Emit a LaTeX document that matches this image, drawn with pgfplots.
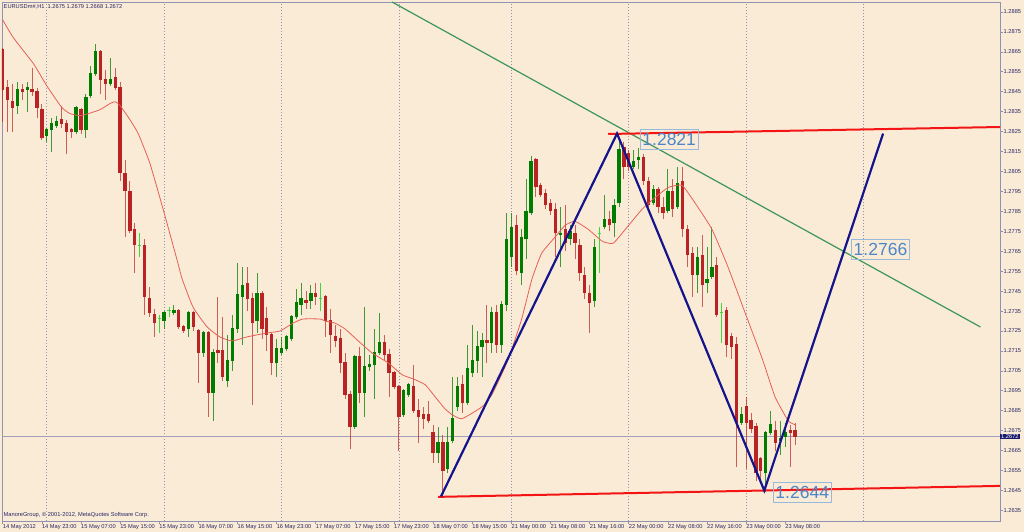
\documentclass[border=0pt]{standalone}
\usepackage{pgfplots}
\pgfplotsset{compat=1.18}
\usepackage{pgfplotstable}
\usepackage{fontspec}
\setmainfont{Liberation Sans}

\definecolor{bg}{RGB}{250,235,215}
\definecolor{bull}{RGB}{0,125,0}
\definecolor{bear}{RGB}{185,35,35}
\definecolor{doji}{RGB}{60,215,60}
\definecolor{frame}{RGB}{145,145,180}
\definecolor{ink}{RGB}{40,40,100}
\definecolor{zig}{RGB}{20,20,140}
\definecolor{trend}{RGB}{60,150,90}
\definecolor{lvl}{RGB}{245,20,20}
\definecolor{ma}{RGB}{230,95,85}
\definecolor{lbl}{RGB}{75,135,200}
\definecolor{lblbox}{RGB}{150,185,220}
\definecolor{curline}{RGB}{160,160,185}
\definecolor{tag}{RGB}{25,25,110}

% EURUSD H1, 14-23 May 2012: i o h l c
\pgfplotstableread{
i o h l c
3 1.2838 1.2850 1.2834 1.2846
5 1.2846 1.2850 1.2835 1.2847
9 1.2823 1.2827 1.2820 1.2826
10 1.2826 1.2832 1.2815 1.2829
11 1.2828 1.2833 1.2827 1.2830
15 1.2825 1.2838 1.2824 1.2837
17 1.2826 1.2844 1.2822 1.2842
18 1.2843 1.2858 1.2842 1.2854
19 1.2854 1.2869 1.2853 1.2865
22 1.2849 1.2862 1.2848 1.2851
33 1.2730 1.2735 1.2726 1.2734
35 1.2734 1.2738 1.2733 1.2735
38 1.2726 1.2735 1.2722 1.2734
41 1.2714 1.2725 1.2712 1.2724
43 1.2694 1.2716 1.2680 1.2714
46 1.2700 1.2723 1.2697 1.2710
47 1.2710 1.2733 1.2705 1.2726
48 1.2726 1.2759 1.2724 1.2743
49 1.2742 1.2757 1.2718 1.2748
52 1.2730 1.2754 1.2724 1.2744
56 1.2709 1.2721 1.2702 1.2716
57 1.2714 1.2722 1.2713 1.2716
58 1.2716 1.2723 1.2715 1.2722
59 1.2721 1.2733 1.2720 1.2732
60 1.2732 1.2746 1.2731 1.2739
61 1.2738 1.2749 1.2733 1.2741
63 1.2740 1.2748 1.2736 1.2744
72 1.2677 1.2713 1.2676 1.2712
74 1.2694 1.2737 1.2682 1.2707
75 1.2707 1.2713 1.2705 1.2708
76 1.2708 1.2726 1.2691 1.2714
77 1.2714 1.2734 1.2713 1.2719
82 1.2683 1.2696 1.2682 1.2695
83 1.2693 1.2699 1.2692 1.2698
89 1.2664 1.2677 1.2659 1.2669
91 1.2656 1.2677 1.2654 1.2669
92 1.2670 1.2702 1.2669 1.2681
93 1.2687 1.2702 1.2685 1.2697
95 1.2689 1.2718 1.2688 1.2706
96 1.2704 1.2728 1.2702 1.2710
97 1.2710 1.2725 1.2704 1.2717
98 1.2717 1.2724 1.2702 1.2720
100 1.2719 1.2737 1.2714 1.2734
102 1.2718 1.2740 1.2714 1.2738
103 1.2738 1.2784 1.2735 1.2771
104 1.2762 1.2784 1.2757 1.2777
106 1.2754 1.2776 1.2748 1.2772
107 1.2771 1.2801 1.2761 1.2785
108 1.2784 1.2813 1.2783 1.2810
114 1.2773 1.2787 1.2757 1.2774
116 1.2771 1.2778 1.2768 1.2775
121 1.2740 1.2771 1.2737 1.2767
123 1.2777 1.2793 1.2776 1.2781
125 1.2779 1.2791 1.2772 1.2788
126 1.2789 1.2822 1.2787 1.2816
129 1.2807 1.2816 1.2806 1.2810
130 1.2811 1.2817 1.2806 1.2812
133 1.2789 1.2798 1.2788 1.2796
136 1.2785 1.2806 1.2784 1.2795
138 1.2787 1.2807 1.2786 1.2799
142 1.2753 1.2767 1.2744 1.2762
144 1.2749 1.2767 1.2744 1.2751
145 1.2752 1.2777 1.2751 1.2757
151 1.2679 1.2687 1.2678 1.2683
156 1.2654 1.2675 1.2644 1.2674
157 1.2674 1.2685 1.2673 1.2678
159 1.2670 1.2680 1.2663 1.2671
160 1.2672 1.2679 1.2667 1.2674
}\bulltab

\pgfplotstableread{
i o h l c
0 1.2866 1.2867 1.2830 1.2846
1 1.2847 1.2851 1.2825 1.2841
2 1.2840 1.2849 1.2825 1.2837
4 1.2846 1.2849 1.2841 1.2845
6 1.2846 1.2857 1.2843 1.2845
7 1.2845 1.2847 1.2832 1.2837
8 1.2836 1.2839 1.2821 1.2822
12 1.2831 1.2838 1.2827 1.2829
13 1.2829 1.2831 1.2814 1.2825
14 1.2826 1.2827 1.2822 1.2825
16 1.2836 1.2837 1.2824 1.2826
20 1.2865 1.2866 1.2844 1.2851
21 1.2851 1.2856 1.2841 1.2849
23 1.2852 1.2857 1.2846 1.2847
24 1.2847 1.2850 1.2800 1.2804
25 1.2804 1.2811 1.2772 1.2795
26 1.2795 1.2800 1.2774 1.2775
27 1.2776 1.2779 1.2754 1.2768
29 1.2768 1.2771 1.2733 1.2742
30 1.2741 1.2747 1.2732 1.2734
31 1.2733 1.2736 1.2722 1.2729
36 1.2735 1.2736 1.2726 1.2727
37 1.2727 1.2728 1.2724 1.2725
39 1.2734 1.2735 1.2725 1.2727
40 1.2725 1.2726 1.2699 1.2714
42 1.2724 1.2725 1.2682 1.2694
44 1.2715 1.2742 1.2709 1.2714
45 1.2715 1.2732 1.2700 1.2702
50 1.2749 1.2757 1.2735 1.2741
51 1.2741 1.2744 1.2688 1.2729
53 1.2744 1.2745 1.2721 1.2726
54 1.2731 1.2737 1.2715 1.2723
55 1.2723 1.2724 1.2703 1.2709
62 1.2740 1.2745 1.2736 1.2739
64 1.2744 1.2749 1.2738 1.2742
66 1.2742 1.2743 1.2722 1.2730
67 1.2730 1.2736 1.2714 1.2723
68 1.2722 1.2728 1.2717 1.2720
69 1.2721 1.2726 1.2704 1.2709
70 1.2709 1.2714 1.2691 1.2693
71 1.2693 1.2695 1.2666 1.2677
73 1.2712 1.2717 1.2689 1.2694
78 1.2719 1.2723 1.2710 1.2713
79 1.2713 1.2716 1.2692 1.2704
80 1.2704 1.2705 1.2696 1.2697
81 1.2697 1.2698 1.2665 1.2682
84 1.2697 1.2708 1.2684 1.2685
85 1.2685 1.2691 1.2669 1.2682
86 1.2683 1.2687 1.2676 1.2681
87 1.2683 1.2690 1.2679 1.2680
88 1.2674 1.2678 1.2659 1.2664
90 1.2669 1.2673 1.2642 1.2655
94 1.2698 1.2703 1.2684 1.2689
99 1.2720 1.2738 1.2709 1.2719
101 1.2734 1.2738 1.2714 1.2718
105 1.2778 1.2783 1.2753 1.2755
109 1.2811 1.2812 1.2792 1.2797
110 1.2798 1.2799 1.2792 1.2793
111 1.2794 1.2796 1.2786 1.2788
112 1.2789 1.2791 1.2783 1.2785
113 1.2786 1.2789 1.2762 1.2774
115 1.2776 1.2788 1.2765 1.2769
117 1.2774 1.2778 1.2761 1.2769
118 1.2768 1.2771 1.2750 1.2754
119 1.2753 1.2757 1.2741 1.2744
120 1.2744 1.2748 1.2724 1.2739
124 1.2781 1.2785 1.2775 1.2778
127 1.2817 1.2820 1.2801 1.2807
128 1.2814 1.2816 1.2805 1.2807
131 1.2812 1.2814 1.2798 1.2800
132 1.2800 1.2802 1.2787 1.2788
134 1.2796 1.2797 1.2784 1.2787
135 1.2787 1.2792 1.2781 1.2784
137 1.2795 1.2801 1.2782 1.2786
139 1.2800 1.2807 1.2772 1.2776
140 1.2776 1.2778 1.2757 1.2763
141 1.2764 1.2767 1.2742 1.2753
143 1.2763 1.2773 1.2737 1.2748
146 1.2758 1.2762 1.2732 1.2733
148 1.2735 1.2737 1.2712 1.2718
149 1.2722 1.2724 1.2711 1.2717
150 1.2718 1.2722 1.2657 1.2679
152 1.2687 1.2692 1.2656 1.2679
153 1.2680 1.2684 1.2674 1.2676
154 1.2677 1.2679 1.2650 1.2654
155 1.2661 1.2662 1.2651 1.2655
158 1.2675 1.2680 1.2665 1.2669
161 1.2675 1.2678 1.2657 1.2674
162 1.2675 1.2679 1.2668 1.2672
}\beartab

% open = close bars
\pgfplotstableread{
i h l c
28 1.2774 1.2762 1.2768
32 1.2733 1.2724 1.2731
34 1.2737 1.2732 1.2735
65 1.2749 1.2735 1.2741
122 1.2777 1.2754 1.2774
147 1.2739 1.2719 1.2734
}\dojitab

% moving average
\pgfplotstableread{
i p
0 1.2881
2.2 1.2872
6.3 1.2859
9.0 1.2848
12.1 1.2837
13.8 1.2834
15.8 1.2833
17.5 1.2834
19.9 1.2836
21.9 1.2839
23.0 1.2840
24.0 1.2838
26.0 1.2831
27.7 1.2824
30.1 1.2809
32.8 1.2786
35.6 1.2761
36.7 1.2751
38.9 1.2737
41.8 1.2727
44.4 1.2722
46.9 1.2720
49.9 1.2722
54.0 1.2724
56.7 1.2725
59.4 1.2729
61.4 1.2731
64.9 1.2731
65.9 1.2730
67.9 1.2729
70.0 1.2726
72.7 1.2720
75.5 1.2714
78.8 1.2709
81.7 1.2703
83.9 1.2701
86.4 1.2698
88.4 1.2692
90.4 1.2686
91.9 1.2683
93.9 1.2681
98.0 1.2687
100.0 1.2693
102.7 1.2707
104.1 1.2716
106.1 1.2731
108.2 1.2751
110.2 1.2764
112.9 1.2772
115.0 1.2778
117.0 1.2780
119.7 1.2776
122.6 1.2770
124.8 1.2769
127.3 1.2776
130.7 1.2786
133.4 1.2792
136.1 1.2797
138.9 1.2798
141.6 1.2789
145.0 1.2776
148.3 1.2757
151.8 1.2734
155.3 1.2711
157.9 1.2692
160.6 1.2680
162.0 1.2678
}\matab

\newcommand{\mtfont}{\fontsize{5.7}{6.2}\selectfont}

\begin{document}
\begin{tikzpicture}
\useasboundingbox (0,0) rectangle (1024pt,532pt);
\fill[bg] (0,0) rectangle (1024pt,532pt);
\begin{axis}[
  at={(2pt,11pt)}, anchor=south west,
  scale only axis, width=998pt, height=519pt,
  xmin=-0.15, xmax=203.9, ymin=1.26297, ymax=1.28900,
  axis background/.style={fill=bg},
  axis line style={draw=frame, line width=0.8pt},
  clip mode=individual,
  tick align=outside, major tick length=3pt,
  tick style={draw=frame, line width=0.6pt},
  xtick pos=bottom, ytick pos=right, yticklabel pos=right,
  xtick={0,8,...,160},
  xticklabels={14 May 2012,14 May 23:00,15 May 07:00,15 May 15:00,15 May 23:00,16 May 07:00,16 May 15:00,16 May 23:00,17 May 07:00,17 May 15:00,17 May 23:00,18 May 07:00,18 May 15:00,21 May 00:00,21 May 08:00,21 May 16:00,22 May 00:00,22 May 08:00,22 May 16:00,23 May 00:00,23 May 08:00},
  xticklabel style={anchor=north west, font=\mtfont, text=ink, inner sep=0pt, xshift=0pt, yshift=-0.5pt},
  ytick={1.2635,1.2645,1.2655,1.2665,1.2675,1.2685,1.2695,1.2705,1.2715,1.2725,1.2735,1.2745,1.2755,1.2765,1.2775,1.2785,1.2795,1.2805,1.2815,1.2825,1.2835,1.2845,1.2855,1.2865,1.2875,1.2885},
  scaled y ticks=false,
  yticklabel style={anchor=west, font=\mtfont, text=ink, inner sep=0.5pt,
    /pgf/number format/.cd, fixed, fixed zerofill, precision=4, assume math mode=true},
  extra x ticks={9,33,57,81,104,128,152,176},
  extra x tick labels={},
  extra x tick style={grid=major, major tick length=0pt,
    major grid style={draw=frame, dash pattern=on 1pt off 2pt, line width=0.6pt}},
]
% current price line
\addplot[curline, line width=0.8pt, forget plot] coordinates {(-0.15,1.2672) (203.9,1.2672)};

% wicks
\addplot[draw=none, mark=none, forget plot,
  error bars/.cd, y dir=plus, y explicit,
  error bar style={draw=bull, line width=0.9pt, opacity=0.75}, error mark=none]
  table[x=i, y=l, y error expr=\thisrow{h}-\thisrow{l}] {\bulltab};
\addplot[draw=none, mark=none, forget plot,
  error bars/.cd, y dir=plus, y explicit,
  error bar style={draw=bear, line width=0.9pt, opacity=0.7}, error mark=none]
  table[x=i, y=l, y error expr=\thisrow{h}-\thisrow{l}] {\beartab};
\addplot[draw=none, mark=none, forget plot,
  error bars/.cd, y dir=plus, y explicit,
  error bar style={draw=doji, line width=0.9pt}, error mark=none]
  table[x=i, y=l, y error expr=\thisrow{h}-\thisrow{l}] {\dojitab};

% bodies
\addplot[draw=none, mark=none, forget plot,
  error bars/.cd, y dir=plus, y explicit,
  error bar style={draw=bull, line width=3.3pt}, error mark=none]
  table[x=i, y=o, y error expr=\thisrow{c}-\thisrow{o}+0.00003] {\bulltab};
\addplot[draw=none, mark=none, forget plot,
  error bars/.cd, y dir=plus, y explicit,
  error bar style={draw=bear, line width=3.3pt}, error mark=none]
  table[x=i, y=c, y error expr=\thisrow{o}-\thisrow{c}+0.00003] {\beartab};
\addplot[draw=none, mark=none, forget plot,
  error bars/.cd, y dir=plus, y explicit,
  error bar style={draw=doji, line width=3.3pt}, error mark=none]
  table[x=i, y=c, y error expr=0.00003] {\dojitab};

% moving average
\addplot[ma, line width=0.8pt, smooth, tension=0.3, forget plot] table[x=i, y=p] {\matab};

% drawn objects
\addplot[trend, line width=1.2pt, forget plot] coordinates {(79.6,1.2890) (199.9,1.2727)};
\addplot[lvl, line width=2pt, forget plot] coordinates {(123.8,1.28238) (203.9,1.28273)};
\addplot[lvl, line width=2pt, forget plot] coordinates {(89.0,1.26418) (203.9,1.26473)};
\addplot[zig, line width=2.2pt, forget plot] coordinates {(89.6,1.2642) (125.6,1.2824) (155.7,1.2645) (180.0,1.2824)};

\node[anchor=west, draw=lblbox, line width=0.8pt, text=lbl,
  font=\fontsize{17.5}{18}\selectfont, inner xsep=2pt, inner ysep=3.5pt] at (axis cs:130.3,1.2821) {1.2821};
\node[anchor=west, draw=lblbox, line width=0.8pt, text=lbl,
  font=\fontsize{17.5}{18}\selectfont, inner xsep=2pt, inner ysep=3.5pt] at (axis cs:173.5,1.2766) {1.2766};
\node[anchor=west, draw=lblbox, line width=0.8pt, text=lbl,
  font=\fontsize{17.5}{18}\selectfont, inner xsep=2pt, inner ysep=3.5pt] at (axis cs:157.5,1.2644) {1.2644};

\node[anchor=west, fill=tag, text=white, font=\mtfont, inner xsep=1pt, inner ysep=0.8pt] at (axis cs:203.9,1.2672) {1.2672};
\node[anchor=north west, text=ink, font=\mtfont, inner sep=0pt] at ([xshift=1.5pt, yshift=-2.5pt]rel axis cs:0,1) {EURUSDm\#,H1\ \ 1.2675 1.2679 1.2668 1.2672};
\node[anchor=south west, text=ink, font=\mtfont, inner sep=0pt] at ([xshift=1.5pt, yshift=3pt]rel axis cs:0,0) {ManoreGroup, © 2001-2012, MetaQuotes Software Corp.};
\end{axis}
\end{tikzpicture}
\end{document}
